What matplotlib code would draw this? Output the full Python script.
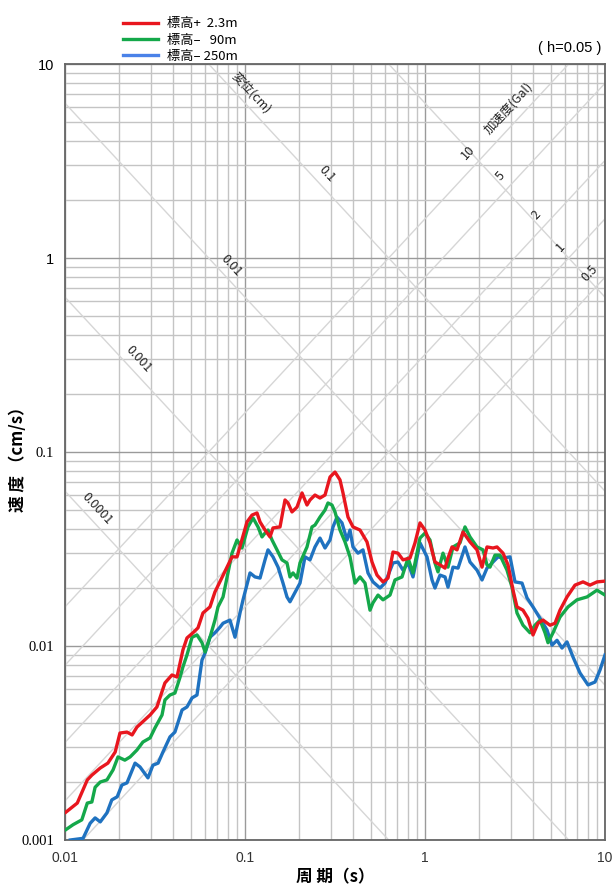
import numpy as np
import matplotlib.pyplot as plt
from matplotlib.lines import Line2D
from matplotlib.ticker import NullFormatter

plt.rcParams['font.family'] = ['Noto Sans CJK JP', 'DejaVu Sans']

# period (s) / pseudo velocity (cm/s)
t_red = [0.0101, 0.0117, 0.0133, 0.0141, 0.0157, 0.0173, 0.0190, 0.0202, 0.0221, 0.0236,
         0.0251, 0.0297, 0.0324, 0.0359, 0.0393, 0.0419, 0.0452, 0.0476, 0.0514, 0.0548,
         0.0584, 0.0639, 0.0681, 0.0847, 0.0903, 0.1026, 0.1094, 0.1166, 0.1212, 0.1292,
         0.1377, 0.1431, 0.1565, 0.1668, 0.1734, 0.1824, 0.1945, 0.2074, 0.2210, 0.2297,
         0.2448, 0.2610, 0.2783, 0.2967, 0.3162, 0.3371, 0.3503, 0.3734, 0.3981, 0.4355,
         0.4762, 0.5077, 0.5412, 0.5843, 0.6229, 0.6640, 0.7079, 0.7549, 0.8254, 0.8799,
         0.9380, 1.000, 1.066, 1.136, 1.212, 1.292, 1.342, 1.413, 1.506, 1.626,
         1.778, 1.945, 2.074, 2.210, 2.387, 2.512, 2.712, 2.892, 3.083, 3.244,
         3.503, 3.734, 3.981, 4.244, 4.524, 4.948, 5.275, 5.623, 6.150, 6.813,
         7.549, 8.254, 9.028, 10.0]
v_red = [0.00139, 0.00155, 0.00204, 0.00216, 0.00235, 0.00249, 0.00284, 0.00356, 0.00360, 0.00348,
         0.00382, 0.00441, 0.00485, 0.00645, 0.00709, 0.00692, 0.00954, 0.0110, 0.0117, 0.0124,
         0.0148, 0.0159, 0.0190, 0.0288, 0.0288, 0.0436, 0.0473, 0.0485, 0.0436, 0.0396,
         0.0365, 0.0406, 0.0411, 0.0566, 0.0546, 0.0491, 0.0520, 0.0615, 0.0533, 0.0566,
         0.0600, 0.0579, 0.0600, 0.0743, 0.0788, 0.0718, 0.0615, 0.0462, 0.0411, 0.0396,
         0.0344, 0.0271, 0.0232, 0.0214, 0.0224, 0.0305, 0.0301, 0.0278, 0.0284, 0.0340,
         0.0431, 0.0396, 0.0340, 0.0271, 0.0262, 0.0252, 0.0284, 0.0324, 0.0313, 0.0387,
         0.0344, 0.0313, 0.0255, 0.0324, 0.0320, 0.0324, 0.0301, 0.0262, 0.0194, 0.0159,
         0.0153, 0.0139, 0.0114, 0.0131, 0.0136, 0.0128, 0.0131, 0.0153, 0.0179, 0.0206,
         0.0214, 0.0206, 0.0214, 0.0216]

t_green = [0.0101, 0.0111, 0.0124, 0.0133, 0.0141, 0.0147, 0.0157, 0.0171, 0.0185, 0.0197,
           0.0215, 0.0230, 0.0251, 0.0271, 0.0297, 0.0316, 0.0346, 0.0359, 0.0383, 0.0408,
           0.0436, 0.0452, 0.0476, 0.0508, 0.0541, 0.0577, 0.0600, 0.0639, 0.0681, 0.0708,
           0.0755, 0.0847, 0.0903, 0.0962, 0.1039, 0.1108, 0.1181, 0.1243, 0.1292, 0.1342,
           0.1413, 0.1506, 0.1605, 0.1711, 0.1778, 0.1848, 0.1945, 0.2021, 0.2210, 0.2356,
           0.2448, 0.2610, 0.2783, 0.2891, 0.3043, 0.3162, 0.3371, 0.3594, 0.3831, 0.4084,
           0.4355, 0.4642, 0.4948, 0.5142, 0.5482, 0.5843, 0.6390, 0.6813, 0.7452, 0.8047,
           0.8577, 0.9380, 1.000, 1.066, 1.136, 1.181, 1.259, 1.342, 1.431, 1.565,
           1.668, 1.778, 1.945, 2.100, 2.210, 2.297, 2.448, 2.610, 2.855, 3.043,
           3.244, 3.503, 3.831, 4.084, 4.355, 4.642, 4.823, 5.142, 5.623, 6.229,
           6.990, 7.943, 9.028, 10.0]
v_green = [0.00113, 0.00120, 0.00127, 0.00155, 0.00157, 0.00187, 0.00199, 0.00204, 0.00230, 0.00268,
           0.00258, 0.00268, 0.00291, 0.00320, 0.00336, 0.00378, 0.00441, 0.00527, 0.00559, 0.00572,
           0.00692, 0.00780, 0.00899, 0.0111, 0.0114, 0.0104, 0.00931, 0.0111, 0.0136, 0.0159,
           0.0179, 0.0301, 0.0352, 0.0320, 0.0411, 0.0457, 0.0411, 0.0365, 0.0382, 0.0396,
           0.0352, 0.0313, 0.0278, 0.0268, 0.0227, 0.0238, 0.0224, 0.0268, 0.0324, 0.0411,
           0.0420, 0.0462, 0.0502, 0.0546, 0.0533, 0.0491, 0.0396, 0.0344, 0.0288, 0.0211,
           0.0227, 0.0211, 0.0153, 0.0167, 0.0183, 0.0173, 0.0183, 0.0219, 0.0227, 0.0284,
           0.0238, 0.0360, 0.0382, 0.0352, 0.0268, 0.0241, 0.0301, 0.0255, 0.0324, 0.0340,
           0.0411, 0.0365, 0.0324, 0.0313, 0.0262, 0.0255, 0.0294, 0.0294, 0.0246, 0.0201,
           0.0148, 0.0128, 0.0117, 0.0128, 0.0136, 0.0117, 0.0104, 0.0117, 0.0141, 0.0159,
           0.0173, 0.0179, 0.0194, 0.0183]

t_blue = [0.0107, 0.0126, 0.0138, 0.0147, 0.0157, 0.0171, 0.0182, 0.0195, 0.0207, 0.0221,
          0.0245, 0.0261, 0.0289, 0.0308, 0.0329, 0.0350, 0.0383, 0.0408, 0.0447, 0.0476,
          0.0508, 0.0541, 0.0577, 0.0600, 0.0639, 0.0681, 0.0726, 0.0755, 0.0825, 0.0880,
          0.0938, 0.0975, 0.1066, 0.1136, 0.1212, 0.1292, 0.1342, 0.1431, 0.1526, 0.1626,
          0.1711, 0.1778, 0.2021, 0.2154, 0.2297, 0.2448, 0.2610, 0.2783, 0.2967, 0.3083,
          0.3244, 0.3458, 0.3687, 0.3831, 0.3981, 0.4244, 0.4524, 0.4823, 0.5142, 0.5623,
          0.5995, 0.6640, 0.7079, 0.7549, 0.8047, 0.8577, 0.9380, 1.026, 1.094, 1.136,
          1.212, 1.292, 1.342, 1.431, 1.526, 1.668, 1.778, 1.945, 2.074, 2.210,
          2.387, 2.545, 2.712, 2.967, 3.162, 3.459, 3.687, 3.981, 4.355, 4.762,
          5.077, 5.412, 5.769, 6.150, 6.640, 7.263, 8.047, 8.799, 9.380, 10.0]
v_blue = [0.00100, 0.00102, 0.00122, 0.00130, 0.00124, 0.00138, 0.00161, 0.00167, 0.00192, 0.00197,
          0.00249, 0.00238, 0.00209, 0.00243, 0.00249, 0.00284, 0.00340, 0.00360, 0.00468, 0.00485,
          0.00540, 0.00559, 0.00847, 0.00920, 0.0111, 0.0117, 0.0125, 0.0131, 0.0136, 0.0111,
          0.0148, 0.0173, 0.0238, 0.0227, 0.0224, 0.0278, 0.0313, 0.0288, 0.0255, 0.0211,
          0.0179, 0.0169, 0.0211, 0.0288, 0.0278, 0.0324, 0.0360, 0.0320, 0.0352, 0.0411,
          0.0462, 0.0431, 0.0352, 0.0396, 0.0324, 0.0301, 0.0313, 0.0238, 0.0214, 0.0199,
          0.0211, 0.0268, 0.0271, 0.0246, 0.0268, 0.0227, 0.0340, 0.0288, 0.0219, 0.0199,
          0.0232, 0.0227, 0.0201, 0.0255, 0.0252, 0.0324, 0.0271, 0.0246, 0.0219, 0.0252,
          0.0271, 0.0288, 0.0284, 0.0288, 0.0214, 0.0211, 0.0177, 0.0159, 0.0139, 0.0121,
          0.0101, 0.0107, 0.00976, 0.0105, 0.00878, 0.00726, 0.00630, 0.00652, 0.00752, 0.00899]

series_labels = ['標高+  2.3m', '標高–   90m', '標高– 250m']

disp_values = [1e-4, 1e-3, 1e-2, 1e-1, 1]          # cm
disp_labels = {1e-4: '0.0001', 1e-3: '0.001', 1e-2: '0.01', 1e-1: '0.1'}
acc_values = [0.5, 1, 2, 5, 10]                     # Gal
acc_labels = {10: '10', 5: '5', 2: '2', 1: '1', 0.5: '0.5'}

fig = plt.figure(figsize=(6.16, 8.86), dpi=100)
ax = fig.add_axes([65 / 616, 1 - 840 / 886, 540 / 616, 776 / 886])
ax.set_xscale('log')
ax.set_yscale('log')
ax.set_xlim(0.01, 10)
ax.set_ylim(0.001, 10)

ax.grid(which='major', color='#9a9a9a', lw=1.0, zorder=0)
ax.grid(which='minor', color='#c4c4c4', lw=1.0, zorder=0)
ax.set_axisbelow(True)
ax.tick_params(which='both', length=0)
ax.xaxis.set_minor_formatter(NullFormatter())
ax.yaxis.set_minor_formatter(NullFormatter())
for s in ax.spines.values():
    s.set_color('#666666')
    s.set_linewidth(1.3)

# tripartite diagonals
tt = np.array([0.01, 10.0])
for d in disp_values:
    ax.plot(tt, 2 * np.pi * d / tt, color='#d6d6d6', lw=1.0, zorder=1)
for a in acc_values:
    ax.plot(tt, a * tt / (2 * np.pi), color='#d6d6d6', lw=1.0, zorder=1)

ang = np.degrees(np.arctan(194 / 180))
lab_t = {1e-4: 0.0138, 1e-3: 0.0235, 1e-2: 0.077, 1e-1: 0.26}
for d, txt in disp_labels.items():
    t = lab_t[d]
    ax.annotate(txt, (t, 2 * np.pi * d / t), xytext=(5, 7), textcoords='offset points',
                rotation=-ang, ha='center', va='center', fontsize=9, color='#222222',
                rotation_mode='anchor')
ax.annotate('変位(cm)', (0.099, 2 * np.pi * 0.1 / 0.099), xytext=(5, 7),
            textcoords='offset points', rotation=-ang, ha='center', va='center',
            fontsize=9, color='#222222', rotation_mode='anchor')

lab_ta = {10: 1.93, 5: 2.93, 2: 4.6, 1: 6.3, 0.5: 9.2}
for a, txt in acc_labels.items():
    t = lab_ta[a]
    ax.annotate(txt, (t, a * t / (2 * np.pi)), xytext=(-6, 8), textcoords='offset points',
                rotation=ang, ha='center', va='center', fontsize=9, color='#222222',
                rotation_mode='anchor')
ax.annotate('加速度(Gal)', (3.25, 10 * 3.25 / (2 * np.pi)), xytext=(-6, 8),
            textcoords='offset points', rotation=ang, ha='center', va='center',
            fontsize=9, color='#222222', rotation_mode='anchor')

ax.plot(t_red, v_red, color='#e8161e', lw=2.4, zorder=5)
ax.plot(t_green, v_green, color='#14a84a', lw=2.4, zorder=4)
ax.plot(t_blue, v_blue, color='#1f72c0', lw=2.4, zorder=3)

ax.set_xticks([0.01, 0.1, 1, 10])
ax.set_xticklabels(['0.01', '0.1', '1', '10'], fontsize=10, color='#333333',
                   family=['Liberation Sans', 'DejaVu Sans'])
ax.set_yticks([0.001, 0.01, 0.1, 1, 10])
ax.set_yticklabels(['0.001', '0.01', '0.1', '1', '10'], fontsize=10.5,
                   family=['Liberation Serif', 'DejaVu Serif'])
ax.tick_params(axis='x', pad=8)
ax.tick_params(axis='y', pad=8)
for lbl in ax.get_yticklabels()[3:]:
    lbl.set_family(['Liberation Sans', 'DejaVu Sans'])

ax.set_xlabel('周 期（s）', fontsize=12, fontweight='bold', labelpad=2)
fig.text(18 / 616, 1 - 455 / 886, '速 度 （cm/s）', fontsize=12, fontweight='bold',
         rotation=90, ha='center', va='center')

fig.text(570 / 616, 1 - 48 / 886, '( h=0.05 )', fontsize=10.5, ha='center', va='center',
         family=['Liberation Sans', 'DejaVu Sans'])

handles = [Line2D([], [], color='#e8161e', lw=2.4),
           Line2D([], [], color='#14a84a', lw=2.4),
           Line2D([], [], color='#4a82e8', lw=2.4)]
fig.legend(handles, series_labels, loc='upper left', bbox_to_anchor=(118 / 616, 1 - 12 / 886),
           frameon=False, fontsize=9.5, handlelength=2.6, labelspacing=0.25,
           handletextpad=0.7, borderaxespad=0)

fig.savefig('out.png', dpi=100)
